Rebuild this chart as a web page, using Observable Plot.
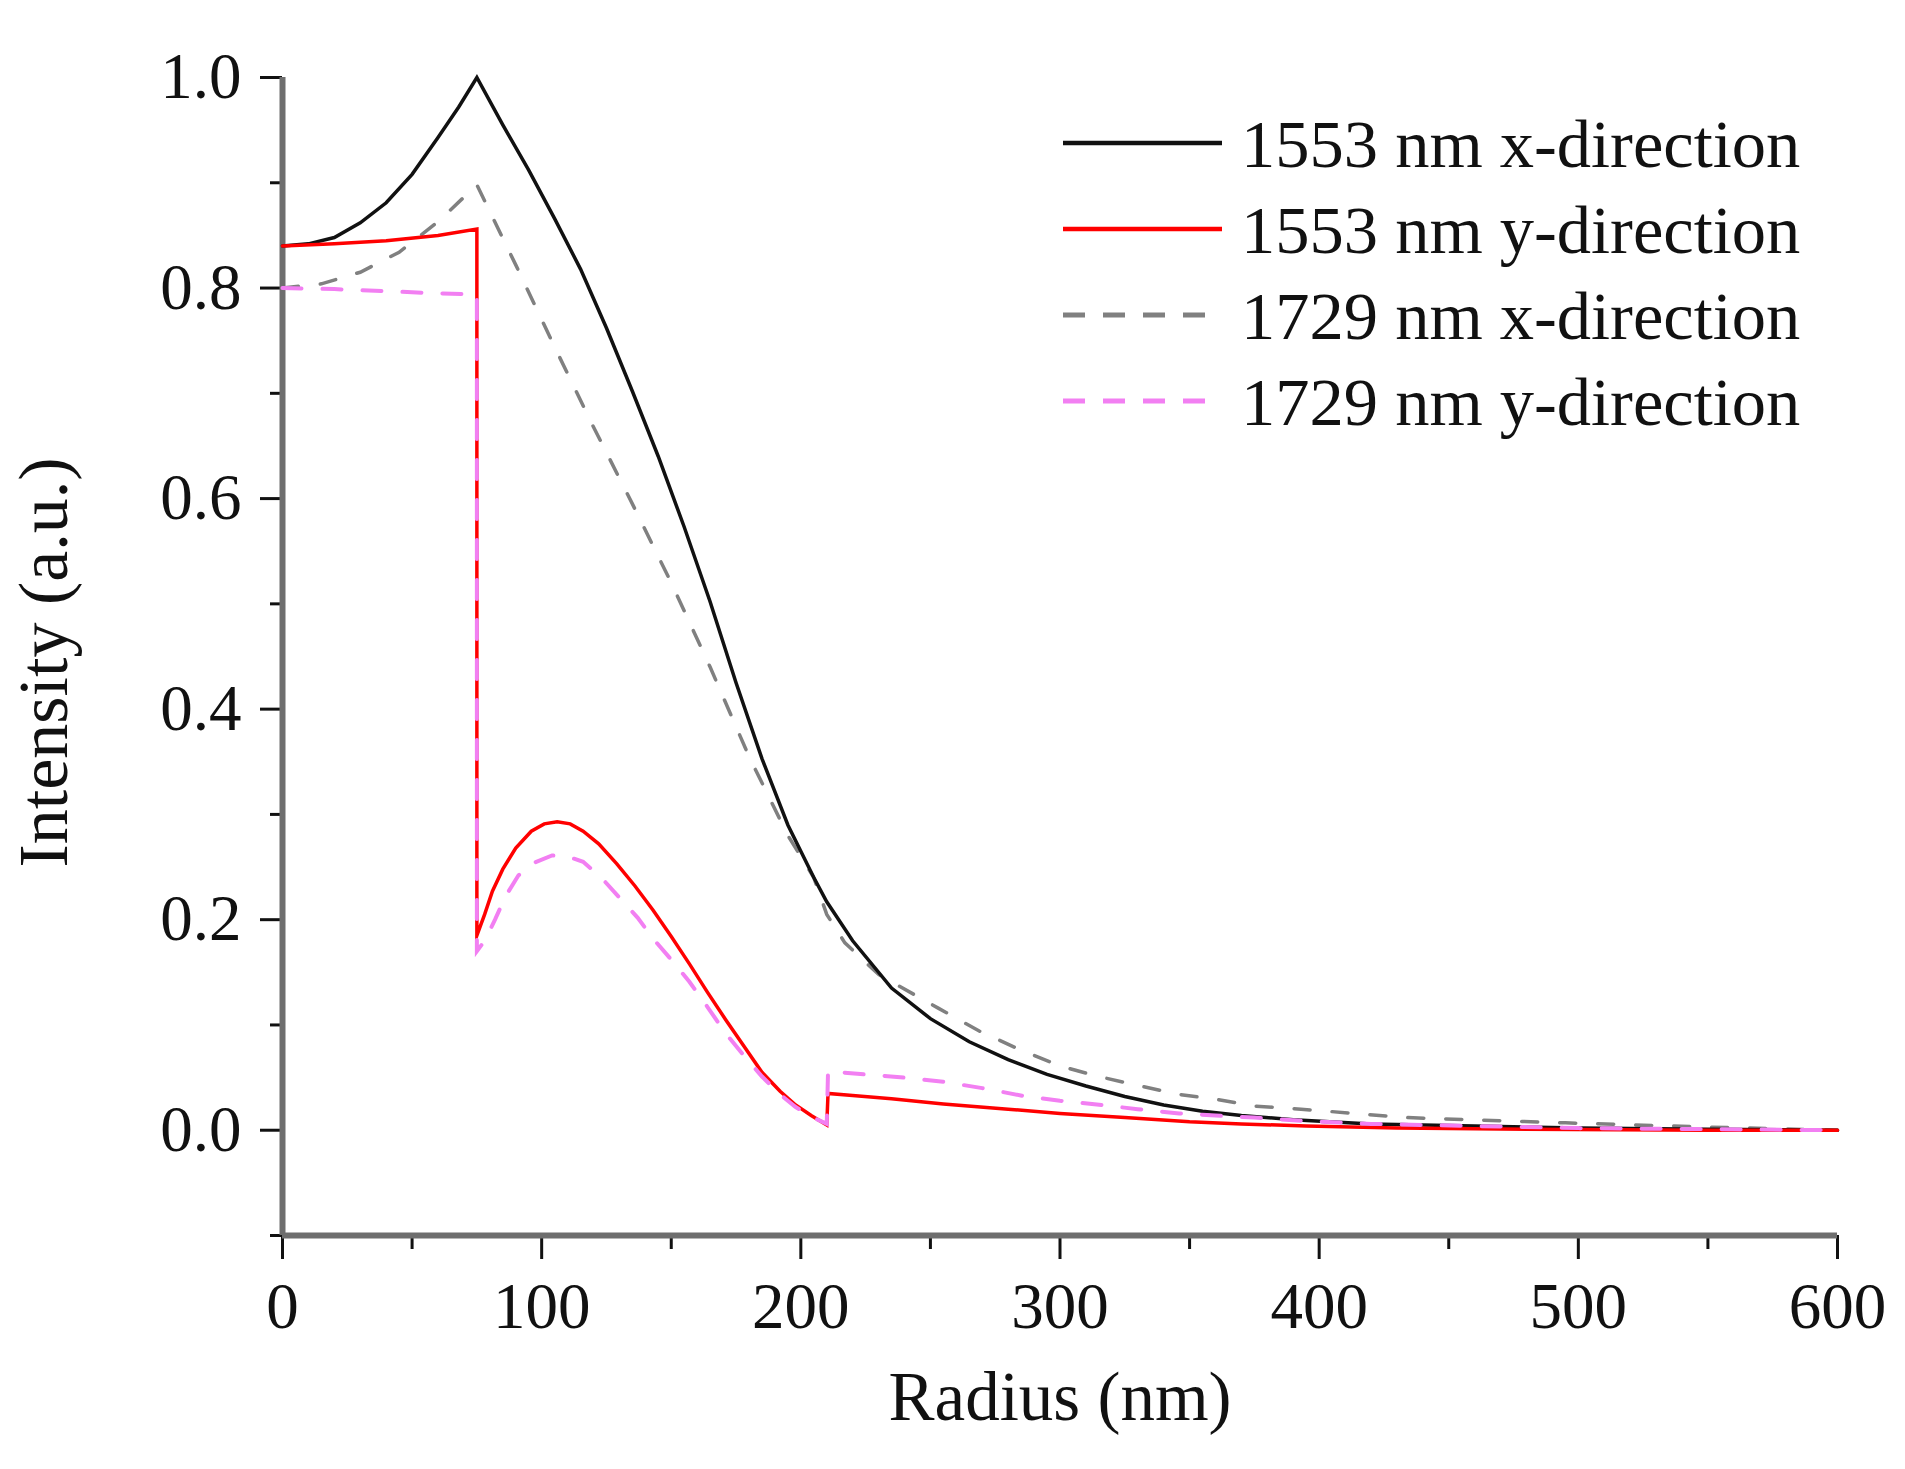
<!DOCTYPE html>
<html>
<head>
<meta charset="utf-8">
<script src="https://cdn.jsdelivr.net/npm/d3@7"></script>
<script src="https://cdn.jsdelivr.net/npm/@observablehq/plot@0.6"></script>
<style>
  html, body { margin: 0; padding: 0; background: #fff; }
  #wrap { position: relative; width: 1905px; height: 1469px; overflow: hidden; }
  #legend { position: absolute; left: 0; top: 0; pointer-events: none; }
</style>
</head>
<body>
<div id="wrap"><div id="chart"></div><svg id="legend" width="1905" height="1469"></svg></div>
<script>
// ---- Data ----
const seriesNames = ["1553 nm x-direction", "1553 nm y-direction", "1729 nm x-direction", "1729 nm y-direction"];

// 1553 nm x-direction
const r_x1553 = [0,10,20,30,40,50,60,68,75,85,95,105,115,125,135,145,155,165,175,185,195,205,210,220,235,250,265,280,295,310,325,340,355,370,390,420,460,500,550,600];
const v_x1553 = [0.840,0.842,0.848,0.862,0.881,0.908,0.943,0.972,1.000,0.955,0.912,0.866,0.818,0.762,0.702,0.640,0.573,0.502,0.425,0.353,0.290,0.240,0.217,0.180,0.135,0.106,0.084,0.067,0.053,0.042,0.032,0.024,0.018,0.014,0.010,0.006,0.004,0.002,0.001,0.000];

// 1553 nm y-direction
const r_y1553 = [0,20,40,60,75,75,78,81,85,90,96,101,106,111,116,122,129,136,143,150,157,164,171,178,185,192,198,204,210,210.5,220,235,255,280,300,325,350,370,395,430,480,550,600];
const v_y1553 = [0.840,0.842,0.845,0.850,0.856,0.185,0.205,0.227,0.248,0.268,0.284,0.291,0.293,0.291,0.284,0.272,0.253,0.232,0.209,0.184,0.158,0.131,0.105,0.080,0.055,0.037,0.024,0.014,0.005,0.035,0.033,0.030,0.025,0.020,0.016,0.012,0.008,0.006,0.004,0.002,0.001,0.000,0.000];

// 1729 nm x-direction
const r_x1729 = [0,15,30,45,60,75,90,105,120,135,150,165,180,195,205,210,217,230,253,269,285,300,315,331,346,361,375,393,434,495,550,600];
const v_x1729 = [0.800,0.804,0.815,0.834,0.863,0.898,0.822,0.744,0.668,0.595,0.520,0.440,0.355,0.280,0.240,0.205,0.178,0.148,0.116,0.094,0.076,0.061,0.051,0.042,0.034,0.029,0.023,0.020,0.012,0.007,0.003,0.000];

// 1729 nm y-direction
const r_y1729 = [0,20,40,60,75,75,78,82,86,91,97,104,110,116,123,130,137,143,150,157,164,171,178,185,192,198,204,210,210.5,225,240,255,270,287,300,316,330,346,360,375,393,420,460,500,550,600];
const v_y1729 = [0.800,0.799,0.797,0.795,0.794,0.170,0.180,0.200,0.222,0.242,0.254,0.261,0.260,0.255,0.240,0.221,0.202,0.182,0.162,0.141,0.117,0.092,0.071,0.051,0.034,0.022,0.013,0.006,0.056,0.053,0.050,0.046,0.040,0.032,0.028,0.024,0.020,0.016,0.014,0.012,0.009,0.006,0.004,0.002,0.001,0.000];

const xMajorTicks = [0,100,200,300,400,500,600];
const xMinorTicks = [50,150,250,350,450,550];
const yMajorTicks = [0.0,0.2,0.4,0.6,0.8,1.0];
const yMinorTicks = [-0.1,0.1,0.3,0.5,0.7,0.9];

const xLabel = "Radius (nm)";
const yLabel = "Intensity (a.u.)";

// ---- Styles ----
const styles = [
  {stroke: "#111111", width: 3.5, dash: null},
  {stroke: "#ff0000", width: 3.5, dash: null},
  {stroke: "#808080", width: 3.5, dash: "16,22"},
  {stroke: "#f27ff2", width: 4, dash: "19,21"}
];

const toRows = (rs, vs, name) => rs.map((r, i) => ({r, v: vs[i], name}));
const seriesData = [
  toRows(r_x1553, v_x1553, seriesNames[0]),
  toRows(r_y1553, v_y1553, seriesNames[1]),
  toRows(r_x1729, v_x1729, seriesNames[2]),
  toRows(r_y1729, v_y1729, seriesNames[3])
];

const font = "'Liberation Serif', 'Times New Roman', Times, serif";

// draw order: dashed gray, black, red, pink on top
const order = [2, 0, 1, 3];
const lineMarks = order.map(i => Plot.line(seriesData[i], {
  x: "r", y: "v", stroke: styles[i].stroke, strokeWidth: styles[i].width,
  strokeDasharray: styles[i].dash, strokeLinejoin: "miter", strokeMiterlimit: 10
}));

const chart = Plot.plot({
  width: 1905,
  height: 1469,
  marginLeft: 282,
  marginRight: 68,
  marginTop: 77,
  marginBottom: 234,
  style: {fontFamily: font, background: "white", color: "#111", overflow: "visible"},
  x: {domain: [0, 600]},
  y: {domain: [-0.1, 1.0]},
  marks: [
    Plot.axisX(xMajorTicks, {tickSize: 24, tickPadding: 22, fontSize: 65, strokeWidth: 3, stroke: "#111", tickFormat: d => String(d), label: null}),
    Plot.axisX(xMinorTicks, {tickSize: 14, strokeWidth: 3, stroke: "#111", tickFormat: () => "", label: null}),
    Plot.axisY(yMajorTicks, {tickSize: 22, tickPadding: 19, fontSize: 65, strokeWidth: 3, stroke: "#111", tickFormat: d => d.toFixed(1), label: null}),
    Plot.axisY(yMinorTicks, {tickSize: 12, strokeWidth: 3, stroke: "#111", tickFormat: () => "", label: null}),
    Plot.ruleX([0], {stroke: "#6e6e6e", strokeWidth: 6}),
    Plot.ruleY([-0.1], {stroke: "#6e6e6e", strokeWidth: 6}),
    ...lineMarks,
    Plot.text([xLabel], {text: d => d, frameAnchor: "bottom", dy: 184, fontSize: 69, fill: "#111"}),
    Plot.text([yLabel], {text: d => d, frameAnchor: "left", textAnchor: "middle", dx: -238, dy: 6, rotate: -90, fontSize: 70, fill: "#111"})
  ]
});
document.getElementById("chart").appendChild(chart);

// ---- Legend (overlay, top right inside plot) ----
const legend = d3.select("#legend");
const legendLeft = 1063, legendLineLen = 159, legendTop = 143, legendStep = 86;
seriesNames.forEach((name, i) => {
  const y = legendTop + i * legendStep;
  const s = styles[i];
  const dashed = !!s.dash;
  legend.append("line")
    .attr("x1", legendLeft).attr("x2", legendLeft + (dashed ? 142 : legendLineLen))
    .attr("y1", y).attr("y2", y)
    .attr("stroke", s.stroke)
    .attr("stroke-width", dashed ? 5 : 4.5)
    .attr("stroke-dasharray", dashed ? "22,18" : null);
  legend.append("text")
    .attr("x", legendLeft + 178).attr("y", y + 24)
    .attr("font-family", font).attr("font-size", 68.5).attr("fill", "#111")
    .text(name);
});
</script>
</body>
</html>
